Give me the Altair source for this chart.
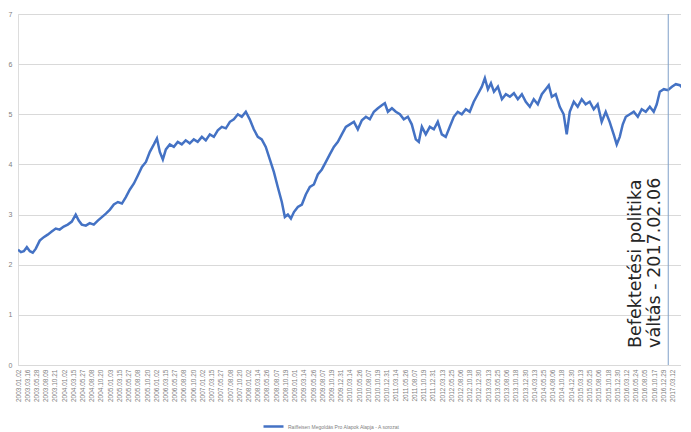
import altair as alt
import pandas as pd

# ---- data ----
dates = [
    "2003-01-02", "2003-01-25", "2003-02-17", "2003-03-13", "2003-04-06", "2003-04-29", "2003-05-23",
    "2003-06-23", "2003-07-25", "2003-08-25", "2003-09-26", "2003-10-28", "2003-11-28", "2003-12-30",
    "2004-01-31", "2004-03-03", "2004-04-03", "2004-04-27", "2004-05-21", "2004-06-22", "2004-07-23",
    "2004-08-24", "2004-09-25", "2004-10-27", "2004-11-28", "2004-12-30", "2005-01-30", "2005-03-03",
    "2005-04-04", "2005-05-05", "2005-06-06", "2005-07-08", "2005-08-08", "2005-09-09", "2005-10-11",
    "2005-11-11", "2005-12-13", "2006-01-06", "2006-01-29", "2006-02-22", "2006-03-18", "2006-04-18",
    "2006-05-20", "2006-06-20", "2006-07-22", "2006-08-22", "2006-09-23", "2006-10-25", "2006-11-25",
    "2006-12-28", "2007-01-28", "2007-03-01", "2007-04-02", "2007-05-03", "2007-06-04", "2007-07-06",
    "2007-08-07", "2007-09-07", "2007-10-09", "2007-11-09", "2007-12-11", "2008-01-11", "2008-02-12",
    "2008-03-15", "2008-04-15", "2008-05-17", "2008-06-18", "2008-07-20", "2008-08-20", "2008-09-21",
    "2008-10-15", "2008-11-08", "2008-12-02", "2008-12-26", "2009-01-26", "2009-02-27", "2009-03-30",
    "2009-05-01", "2009-06-02", "2009-07-03", "2009-08-04", "2009-09-05", "2009-10-06", "2009-11-07",
    "2009-12-09", "2010-01-09", "2010-02-10", "2010-03-14", "2010-04-15", "2010-05-16", "2010-06-17",
    "2010-07-19", "2010-08-19", "2010-09-20", "2010-10-22", "2010-11-22", "2010-12-16", "2011-01-09",
    "2011-02-10", "2011-03-13", "2011-04-14", "2011-05-15", "2011-06-16", "2011-07-17", "2011-08-18",
    "2011-09-11", "2011-10-05", "2011-11-05", "2011-12-07", "2012-01-08", "2012-02-08", "2012-03-11",
    "2012-04-11", "2012-05-13", "2012-06-14", "2012-07-15", "2012-08-16", "2012-09-17", "2012-10-18",
    "2012-11-19", "2012-12-21", "2013-01-22", "2013-02-15", "2013-03-11", "2013-04-04", "2013-04-28",
    "2013-05-29", "2013-06-30", "2013-07-31", "2013-09-01", "2013-10-03", "2013-11-03", "2013-12-05",
    "2014-01-05", "2014-02-06", "2014-03-09", "2014-04-10", "2014-05-12", "2014-06-12", "2014-07-06",
    "2014-07-30", "2014-08-30", "2014-10-01", "2014-11-01", "2014-11-25", "2014-12-19", "2015-01-20",
    "2015-02-20", "2015-03-24", "2015-04-24", "2015-05-26", "2015-06-27", "2015-07-28", "2015-08-29",
    "2015-09-30", "2015-10-31", "2015-12-02", "2015-12-26", "2016-01-19", "2016-02-12", "2016-03-07",
    "2016-04-08", "2016-05-09", "2016-06-10", "2016-07-11", "2016-08-12", "2016-09-13", "2016-10-14",
    "2016-11-07", "2016-12-01", "2017-01-02", "2017-02-03", "2017-03-07", "2017-04-07", "2017-05-09",
    "2017-06-09", "2017-07-11", "2017-07-28",
]
values = [
    2.30, 2.25, 2.27, 2.35, 2.27, 2.24, 2.32,
    2.48, 2.55, 2.60, 2.66, 2.72, 2.70, 2.76,
    2.80, 2.86, 3.00, 2.88, 2.80, 2.78, 2.83,
    2.80, 2.88, 2.95, 3.02, 3.10, 3.20, 3.25,
    3.22, 3.35, 3.50, 3.62, 3.78, 3.95, 4.05,
    4.25, 4.40, 4.52, 4.25, 4.10, 4.30, 4.40,
    4.35, 4.45, 4.40, 4.48, 4.42, 4.50, 4.45,
    4.55, 4.48, 4.60, 4.55, 4.68, 4.75, 4.72,
    4.85, 4.90, 5.00, 4.95, 5.05, 4.90, 4.70,
    4.55, 4.50, 4.35, 4.10, 3.85, 3.55, 3.25,
    2.95, 3.00, 2.92, 3.05, 3.15, 3.20, 3.40,
    3.55, 3.60, 3.80, 3.90, 4.05, 4.20, 4.35,
    4.45, 4.60, 4.75, 4.80, 4.85, 4.70, 4.88,
    4.95, 4.90, 5.05, 5.12, 5.18, 5.22, 5.05,
    5.12, 5.05, 5.00, 4.90, 4.95, 4.80, 4.50,
    4.45, 4.75, 4.60, 4.75, 4.70, 4.85, 4.60,
    4.55, 4.75, 4.95, 5.05, 5.00, 5.10, 5.05,
    5.25, 5.40, 5.55, 5.72, 5.50, 5.62, 5.45,
    5.55, 5.30, 5.40, 5.35, 5.42, 5.30, 5.40,
    5.25, 5.15, 5.30, 5.20, 5.40, 5.50, 5.58,
    5.35, 5.40, 5.15, 5.00, 4.60, 5.05, 5.25,
    5.15, 5.30, 5.20, 5.25, 5.10, 5.20, 4.85,
    5.05, 4.85, 4.60, 4.40, 4.55, 4.80, 4.95,
    5.00, 5.05, 4.95, 5.10, 5.05, 5.15, 5.05,
    5.20, 5.45, 5.50, 5.48, 5.55, 5.60, 5.58,
    5.50, 5.52, 5.50,
]
tick_dates = [
    "2003-01-02", "2003-03-16", "2003-05-28", "2003-08-09", "2003-10-21", "2004-01-02", "2004-03-15",
    "2004-05-27", "2004-08-08", "2004-10-20", "2005-01-03", "2005-03-15", "2005-05-27", "2005-08-08",
    "2005-10-20", "2006-01-02", "2006-03-15", "2006-05-27", "2006-08-08", "2006-10-20", "2007-01-02",
    "2007-03-15", "2007-05-27", "2007-08-08", "2007-10-20", "2008-01-02", "2008-03-14", "2008-05-26",
    "2008-08-07", "2008-10-19", "2009-01-01", "2009-03-14", "2009-05-26", "2009-08-07", "2009-10-19",
    "2009-12-31", "2010-03-14", "2010-05-26", "2010-08-07", "2010-10-19", "2010-12-31", "2011-03-14",
    "2011-05-26", "2011-08-07", "2011-10-19", "2011-12-31", "2012-03-13", "2012-05-25", "2012-08-06",
    "2012-10-18", "2012-12-30", "2013-03-13", "2013-05-25", "2013-08-06", "2013-10-18", "2013-12-30",
    "2014-03-13", "2014-05-25", "2014-08-06", "2014-10-18", "2014-12-30", "2015-03-13", "2015-05-25",
    "2015-08-06", "2015-10-18", "2015-12-30", "2016-03-12", "2016-05-24", "2016-08-05", "2016-10-17",
    "2016-12-29", "2017-03-12",
]
y_ticks = [0, 1, 2, 3, 4, 5, 6, 7]
series_name = "Raiffeisen Megoldás Pro Alapok Alapja - A sorozat"
event_date = "2017-02-06"
annotation_lines = ["Befektetési politika", "váltás - 2017.02.06"]
annotation_anchor_date = "2016-03-20"
annotation_anchor_value = 0.34
# the reference picture is cropped at its right edge: the visible window ends here
domain_start, domain_end = "2003-01-02", "2017-05-18"

LINE_COLOR = "#4472c4"
GRID = "#d9d9d9"
LABEL = "#7f7f7f"


def dt(s):
    y, m, d = map(int, s.split("-"))
    return alt.DateTime(year=y, month=m, date=d, utc=True)


df = pd.DataFrame({"date": dates, "value": values, "series": series_name})

x_scale = alt.Scale(type="utc", domain=[dt(domain_start), dt(domain_end)], nice=False)
y_scale = alt.Scale(domain=[0, 7], nice=False)

x_axis = alt.Axis(
    values=[dt(s) for s in tick_dates],
    labelExpr="utcFormat(datum.value, '%Y.%m.%d')",
    labelAngle=270,
    labelFontSize=6.5,
    labelColor=LABEL,
    labelOverlap=False,
    labelFlush=False,
    labelPadding=4,
    grid=False,
    ticks=False,
    domainColor=GRID,
    domainWidth=1,
)
y_axis = alt.Axis(
    values=y_ticks,
    labelFontSize=7,
    labelColor=LABEL,
    labelPadding=6,
    ticks=False,
    domain=False,
    grid=True,
    gridColor=GRID,
    gridWidth=1,
)


def X():
    return alt.X("date:T", scale=x_scale, axis=x_axis, title=None)


def Y():
    return alt.Y("value:Q", scale=y_scale, axis=y_axis, title=None)


line = alt.Chart(df).mark_line(strokeWidth=2.5, interpolate="linear", clip=True).encode(
    x=X(),
    y=Y(),
    color=alt.Color(
        "series:N",
        scale=alt.Scale(range=[LINE_COLOR]),
        legend=alt.Legend(
            orient="none",
            legendX=244,
            legendY=401,
            title=None,
            direction="horizontal",
            symbolType="stroke",
            symbolStrokeWidth=2.5,
            symbolSize=400,
            labelFontSize=5,
            labelColor=LABEL,
            labelOffset=3,
        ),
    ),
)

rule = alt.Chart(pd.DataFrame({"date": [event_date]})).mark_rule(
    color="#7f9fc8", strokeWidth=1
).encode(x=X())

note = alt.Chart(
    pd.DataFrame({"date": [annotation_anchor_date], "value": [annotation_anchor_value]})
).mark_text(
    angle=270,
    align="left",
    baseline="top",
    fontSize=17.5,
    font="DejaVu Sans",
    lineHeight=19,
    color="#262626",
    text=annotation_lines,
).encode(x=X(), y=Y())

chart = (
    alt.layer(line, rule, note)
    .properties(width=663, height=351, padding={"left": 0, "top": 2, "right": 0, "bottom": 0})
    .configure_view(stroke=None)
    .configure(background="white")
)

chart.save("out.html", embed_options={"renderer": "svg", "actions": False})
